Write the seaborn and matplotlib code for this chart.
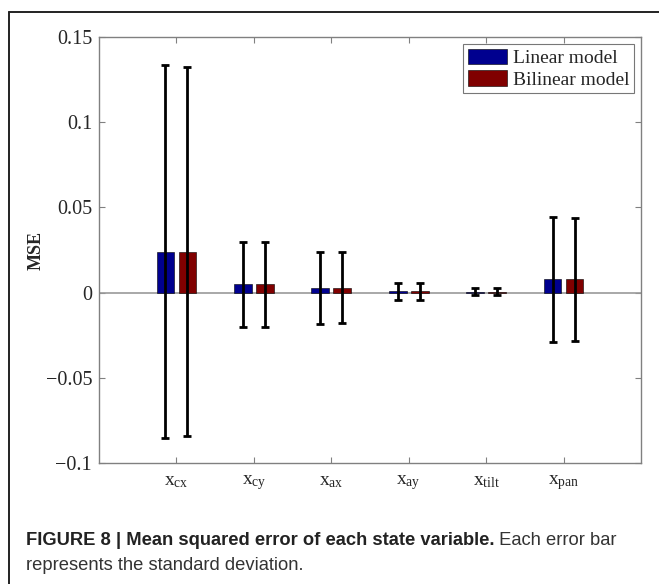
import numpy as np
import pandas as pd
import matplotlib
matplotlib.use("Agg")
import matplotlib.pyplot as plt
import seaborn as sns
from matplotlib.lines import Line2D

# ---------------------------------------------------------------------------
# Data
# ---------------------------------------------------------------------------
variables = ['cx', 'cy', 'ax', 'ay', 'tilt', 'pan']
models = ['Linear model', 'Bilinear model']

linear_mean = [0.024, 0.0049, 0.0029, 0.0007, 0.0005, 0.0077]
linear_std = [0.1095, 0.0250, 0.0211, 0.0051, 0.0022, 0.0367]
bilinear_mean = [0.024, 0.0049, 0.0029, 0.0007, 0.0005, 0.0077]
bilinear_std = [0.1083, 0.0250, 0.0209, 0.0051, 0.0022, 0.0360]

tick_labels = [r'$\mathrm{x}_{\mathrm{%s}}$' % v for v in variables]
ytick_values = [-0.1, -0.05, 0, 0.05, 0.1, 0.15]
ytick_labels = ['\u22120.1', '\u22120.05', '0', '0.05', '0.1', '0.15']

df = pd.DataFrame({
    'variable': variables * 2,
    'model': [models[0]] * len(variables) + [models[1]] * len(variables),
    'mse': linear_mean + bilinear_mean,
    'std': linear_std + bilinear_std,
})

# ---------------------------------------------------------------------------
# Style
# ---------------------------------------------------------------------------
sns.set_theme(style='white')
plt.rcParams['font.family'] = ['Liberation Serif', 'DejaVu Serif']
plt.rcParams['mathtext.fontset'] = 'custom'
plt.rcParams['mathtext.rm'] = 'Liberation Serif'
plt.rcParams['mathtext.it'] = 'Liberation Serif:italic'

fig = plt.figure(figsize=(6.59, 5.84), dpi=100)
ax = fig.add_axes([99 / 659, 1 - 463 / 584, 542 / 659, 426 / 584])

ax.axhline(0, color='#9a9a9a', lw=1.2, zorder=1)

sns.barplot(data=df, x='variable', y='mse', hue='model', order=variables,
            hue_order=models, palette=['#00008f', '#800000'], saturation=1,
            width=0.571, gap=0.2, errorbar=None,
            edgecolor='black', linewidth=0.4, ax=ax, zorder=2)

# error bars at the centre of each drawn bar
for container, model in zip(ax.containers, models):
    sub = df[df['model'] == model].set_index('variable').loc[variables]
    xs = [p.get_x() + p.get_width() / 2 for p in container.patches]
    ax.errorbar(xs, sub['mse'], yerr=sub['std'], fmt='none', ecolor='black',
                elinewidth=2, capsize=3, capthick=2, zorder=3)

ax.set_xlim(-1, 6)
ax.set_ylim(-0.1, 0.15)
ax.set_xticks(range(len(variables)))
ax.set_xticklabels(tick_labels, fontsize=14)
ax.set_yticks(ytick_values)
ax.set_yticklabels(ytick_labels, fontsize=14.5)
ax.set_xlabel('')
ax.set_ylabel('MSE', fontsize=13, fontweight='bold')
ax.yaxis.set_label_coords(-0.1, 0.5)

ax.tick_params(direction='in', length=4, width=0.8, color='#808080',
               top=True, right=True, bottom=True, left=True, pad=5)
ax.tick_params(axis='x', pad=7)
for s in ax.spines.values():
    s.set_color('#808080')
    s.set_linewidth(1)

handles, labels = ax.get_legend_handles_labels()
leg = ax.legend(handles, labels, loc='upper right', fontsize=14,
                frameon=True, fancybox=False, edgecolor='#555555',
                handlelength=2.0, handleheight=0.85, handletextpad=0.3,
                labelspacing=0.15, borderpad=0.25, borderaxespad=0.35)
leg.get_frame().set_linewidth(0.8)

# ---------------------------------------------------------------------------
# Figure frame and caption
# ---------------------------------------------------------------------------
fx, fy = 9 / 659, 1 - 12 / 584
fig.add_artist(Line2D([fx, fx], [0, fy], transform=fig.transFigure,
                      color='#222222', lw=1.4))
fig.add_artist(Line2D([fx, 1], [fy, fy], transform=fig.transFigure,
                      color='#222222', lw=1.4))

cap_font = ['Liberation Sans', 'DejaVu Sans']
t1 = fig.text(26 / 659, 1 - 545 / 584,
              'FIGURE 8 | Mean squared error of each state variable.',
              fontsize=13.2, fontweight='bold', family=cap_font,
              color='#222222', va='baseline')
ax.annotate(' Each error bar', xy=(1, 0), xycoords=t1, va='bottom',
            fontsize=13.2, family=cap_font, color='#333333',
            annotation_clip=False)
fig.text(26 / 659, 1 - 570 / 584, 'represents the standard deviation.',
         fontsize=13.2, family=cap_font, color='#333333', va='baseline')

fig.savefig('out.png', dpi=100)
